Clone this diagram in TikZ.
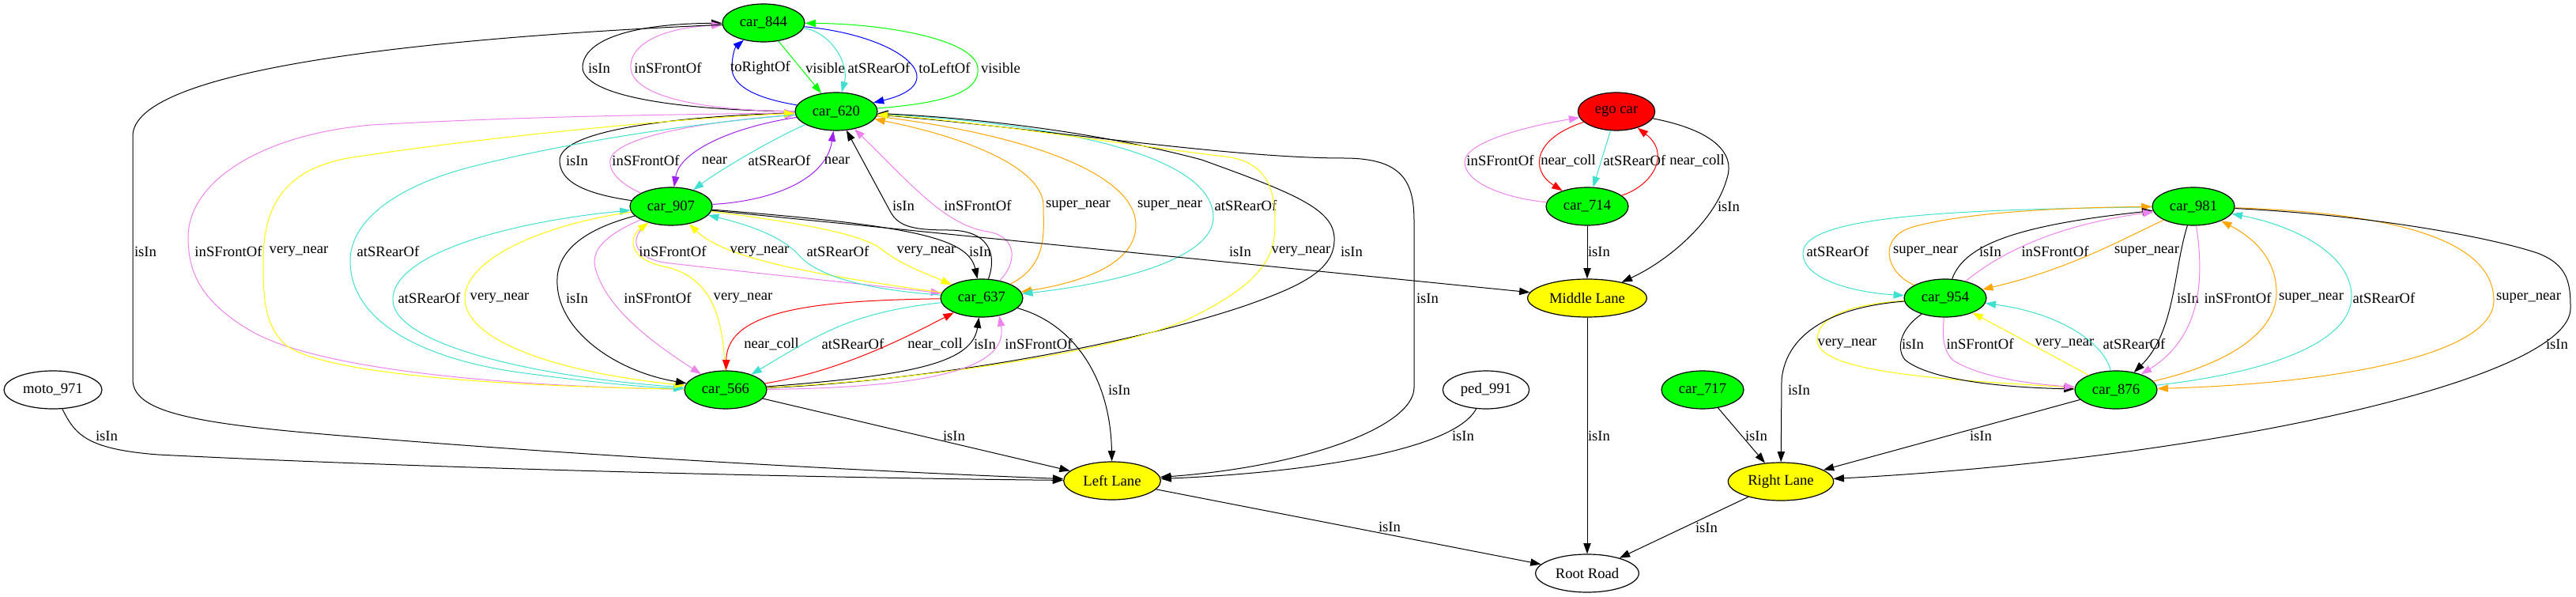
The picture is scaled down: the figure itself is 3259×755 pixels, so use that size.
\documentclass[tikz,border=0pt]{standalone}
\usepackage{fontspec}
\setmainfont{Liberation Serif}
\usepackage{tikz}
\usetikzlibrary{shapes.geometric, arrows.meta}
\definecolor{gvGreen}{HTML}{00FF00}
\definecolor{gvRed}{HTML}{FF0000}
\definecolor{gvYellow}{HTML}{FFFF00}
\definecolor{gvTurq}{HTML}{40E0D0}
\definecolor{gvViolet}{HTML}{EE82EE}
\definecolor{gvPurple}{HTML}{A020F0}
\definecolor{gvOrange}{HTML}{FFA500}
\definecolor{gvBlue}{HTML}{0000FF}
\newcommand{\gvfont}{\fontsize{14}{16}\selectfont}

\begin{document}
\begin{tikzpicture}[
    x=0.75pt, y=-0.75pt,
    obj/.style={ellipse, draw=black, line width=0.9pt, minimum height=36pt, inner sep=1pt, font=\gvfont},
    car/.style={obj, fill=gvGreen, minimum width=78pt},
    lane/.style={obj, fill=gvYellow},
    rel/.style={line width=0.75pt, -{Triangle[length=10pt,width=7pt]}},
    isin/.style={rel, color=black},
    front/.style={rel, color=gvViolet},
    rear/.style={rel, color=gvTurq},
    vnear/.style={rel, color=gvYellow},
    snear/.style={rel, color=gvOrange},
    ncoll/.style={rel, color=gvRed},
    nearby/.style={rel, color=gvPurple},
    vis/.style={rel, color=gvGreen},
    side/.style={rel, color=gvBlue},
    lbl/.style={font=\gvfont, text=black, inner sep=0pt}
]
    \useasboundingbox (0,0) rectangle (3259,755);

    \node[car] (car844) at (966,29) {car\_844};
    \node[car] (car620) at (1058,141) {car\_620};
    \node[obj, fill=gvRed, minimum width=73pt] (egocar) at (2045,141) {ego car};
    \node[car] (car907) at (849,261) {car\_907};
    \node[car] (car714) at (2008,261) {car\_714};
    \node[car] (car981) at (2775,261) {car\_981};
    \node[car] (car637) at (1242,377) {car\_637};
    \node[lane, minimum width=113pt] (midlane) at (2008,377) {Middle Lane};
    \node[car] (car954) at (2461,377) {car\_954};
    \node[car] (car566) at (918,493) {car\_566};
    \node[obj, minimum width=93pt] (moto971) at (67,493) {moto\_971};
    \node[obj, minimum width=82pt] (ped991) at (1880,493) {ped\_991};
    \node[car] (car717) at (2154,493) {car\_717};
    \node[car] (car876) at (2677,493) {car\_876};
    \node[lane, minimum width=92pt] (leftlane) at (1407,608) {Left Lane};
    \node[lane, minimum width=100pt] (rightlane) at (2253,609) {Right Lane};
    \node[obj, minimum width=98pt] (rootroad) at (2008,725) {Root Road};

    \draw[isin] (car620) .. controls (880,140) and (740,125) .. (737,86) .. controls (737,50) and (800,30) .. (car844) node[lbl] at (758,86) {isIn};
    \draw[front] (car620) .. controls (880,140) and (800,120) .. (798,86) .. controls (796,55) and (840,35) .. (car844) node[lbl] at (845,86) {inSFrontOf};
    \draw[side] (car620) .. controls (960,125) and (926,110) .. (926,86) .. controls (926,70) and (930,60) .. (car844) node[lbl] at (962,86) {toRightOf};
    \draw[vis] (car844) -- (car620) node[lbl] at (1044,86) {visible};
    \draw[rear] (car844) .. controls (1050,40) and (1075,80) .. (car620) node[lbl] at (1112,86) {atSRearOf};
    \draw[side] (car844) .. controls (1140,45) and (1210,105) .. (car620) node[lbl] at (1195,86) {toLeftOf};
    \draw[vis] (car620) .. controls (1200,130) and (1240,115) .. (1237,86) .. controls (1234,50) and (1120,30) .. (car844) node[lbl] at (1266,86) {visible};

    \draw[isin] (car907) .. controls (740,245) and (708,230) .. (708,203) .. controls (708,165) and (850,148) .. (car620) node[lbl] at (730,203) {isIn};
    \draw[front] (car907) .. controls (790,235) and (770,220) .. (772,203) .. controls (775,175) and (880,155) .. (car620) node[lbl] at (817,203) {inSFrontOf};
    \draw[nearby] (car620) .. controls (930,160) and (860,190) .. (car907) node[lbl] at (904,203) {near};
    \draw[rear] (car620) .. controls (985,172) and (915,212) .. (car907) node[lbl] at (986,203) {atSRearOf};
    \draw[nearby] (car907) .. controls (970,255) and (1045,230) .. (car620) node[lbl] at (1059,203) {near};

    \draw[isin] (car637) .. controls (1262,320) and (1250,291) .. (1200,291) .. controls (1150,291) and (1135,285) .. (1125,265) -- (car620) node[lbl] at (1143,260) {isIn};
    \draw[front] (car637) .. controls (1285,335) and (1290,300) .. (1250,293) .. controls (1195,285) and (1150,230) .. (car620) node[lbl] at (1237,260) {inSFrontOf};
    \draw[snear] (car637) .. controls (1327,335) and (1320,290) .. (1320,260) .. controls (1320,215) and (1230,175) .. (car620) node[lbl] at (1364,260) {super\_near};
    \draw[snear] (car620) .. controls (1300,170) and (1437,220) .. (1437,285) .. controls (1437,340) and (1350,360) .. (car637) node[lbl] at (1480,260) {super\_near};
    \draw[rear] (car620) .. controls (1400,160) and (1535,210) .. (1535,275) .. controls (1535,330) and (1400,360) .. (car637) node[lbl] at (1576,260) {atSRearOf};

    \draw[front] (car566) .. controls (700,490) and (420,475) .. (320,420) .. controls (250,380) and (238,340) .. (238,300) .. controls (238,230) and (330,170) .. (470,158) .. controls (700,145) and (900,145) .. (car620) node[lbl] at (289,318) {inSFrontOf};
    \draw[vnear] (car566) .. controls (600,488) and (400,470) .. (360,435) .. controls (335,410) and (333,380) .. (333,330) .. controls (333,260) and (360,215) .. (440,200) .. controls (600,175) and (850,150) .. (car620) node[lbl] at (378,318) {very\_near};
    \draw[rear] (car620) .. controls (850,158) and (700,185) .. (600,210) .. controls (500,235) and (443,280) .. (443,330) .. controls (443,400) and (520,450) .. (650,470) .. controls (750,484) and (820,490) .. (car566) node[lbl] at (491,318) {atSRearOf};
    \draw[isin] (car844) .. controls (600,45) and (175,80) .. (168,170) -- (168,480) .. controls (168,520) and (240,535) .. (420,550) .. controls (800,582) and (1200,600) .. (leftlane) node[lbl] at (184,318) {isIn};

    \draw[isin] (car620) .. controls (1300,160) and (1550,200) .. (1700,200) .. controls (1775,200) and (1789,230) .. (1789,280) -- (1789,490) .. controls (1789,540) and (1650,590) .. (leftlane) node[lbl] at (1806,377) {isIn};
    \draw[isin] (car566) .. controls (1200,480) and (1450,430) .. (1580,385) .. controls (1650,360) and (1690,340) .. (1688,300) .. controls (1686,265) and (1640,245) .. (1520,202) .. controls (1400,170) and (1250,150) .. (car620) node[lbl] at (1710,318) {isIn};
    \draw[vnear] (car566) .. controls (1200,478) and (1420,440) .. (1500,405) .. controls (1570,372) and (1608,340) .. (1612,300) .. controls (1616,250) and (1610,205) .. (1550,198) .. controls (1400,180) and (1250,155) .. (car620) node[lbl] at (1646,318) {very\_near};

    \draw[front] (car907) .. controls (795,300) and (800,325) .. (840,332) .. controls (950,345) and (1100,360) .. (car637) node[lbl] at (851,318) {inSFrontOf};
    \draw[vnear] (car637) .. controls (1050,350) and (920,330) .. (car907) node[lbl] at (961,318) {very\_near};
    \draw[rear] (car637) .. controls (1080,365) and (1030,345) .. (1010,322) .. controls (990,300) and (950,285) .. (car907) node[lbl] at (1060,318) {atSRearOf};
    \draw[vnear] (car907) .. controls (1000,280) and (1090,295) .. (1115,315) .. controls (1140,335) and (1170,345) .. (car637) node[lbl] at (1172,318) {very\_near};
    \draw[isin] (car907) .. controls (1150,285) and (1225,300) .. (car637) node[lbl] at (1240,318) {isIn};
    \draw[isin] (car907) -- (midlane) node[lbl] at (1569,318) {isIn};

    \draw[rear] (car566) .. controls (700,480) and (500,440) .. (497,380) .. controls (495,320) and (650,280) .. (car907) node[lbl] at (543,377) {atSRearOf};
    \draw[vnear] (car907) .. controls (680,285) and (588,330) .. (588,377) .. controls (588,430) and (700,470) .. (car566) node[lbl] at (632,377) {very\_near};
    \draw[isin] (car907) .. controls (720,295) and (703,330) .. (705,360) .. controls (708,420) and (780,470) .. (car566) node[lbl] at (730,377) {isIn};
    \draw[front] (car907) .. controls (760,300) and (745,320) .. (755,345) .. controls (770,390) and (820,430) .. (car566) node[lbl] at (832,377) {inSFrontOf};
    \draw[vnear] (car566) .. controls (915,400) and (900,350) .. (840,337) .. controls (795,328) and (795,300) .. (car907) node[lbl] at (940,377) {very\_near};

    \draw[ncoll] (car637) .. controls (1040,380) and (920,390) .. (car566) node[lbl] at (976,435) {near\_coll};
    \draw[rear] (car637) .. controls (1080,395) and (1040,420) .. (car566) node[lbl] at (1079,435) {atSRearOf};
    \draw[ncoll] (car566) .. controls (1060,470) and (1140,430) .. (car637) node[lbl] at (1183,435) {near\_coll};
    \draw[isin] (car566) .. controls (1150,475) and (1230,460) .. (car637) node[lbl] at (1246,435) {isIn};
    \draw[front] (car566) .. controls (1200,490) and (1275,460) .. (car637.-45) node[lbl] at (1314,435) {inSFrontOf};

    \draw[isin] (car637) .. controls (1360,410) and (1405,480) .. (leftlane) node[lbl] at (1416,493) {isIn};
    \draw[isin] (car566) -- (leftlane) node[lbl] at (1207,551) {isIn};
    \draw[isin] (moto971) .. controls (95,550) and (110,568) .. (200,575) .. controls (600,595) and (1100,605) .. (leftlane) node[lbl] at (135,551) {isIn};
    \draw[isin] (ped991) .. controls (1840,570) and (1650,598) .. (leftlane) node[lbl] at (1851,551) {isIn};
    \draw[isin] (leftlane) -- (rootroad) node[lbl] at (1758,666) {isIn};

    \draw[front] (car714) .. controls (1900,250) and (1853,230) .. (1853,205) .. controls (1853,180) and (1930,160) .. (egocar) node[lbl] at (1898,203) {inSFrontOf};
    \draw[ncoll] (egocar) .. controls (1940,175) and (1935,215) .. (car714) node[lbl] at (1984,203) {near\_coll};
    \draw[rear] (egocar) -- (car714) node[lbl] at (2068,203) {atSRearOf};
    \draw[ncoll] (car714) .. controls (2090,235) and (2115,195) .. (egocar) node[lbl] at (2147,203) {near\_coll};
    \draw[isin] (egocar) .. controls (2170,165) and (2195,195) .. (2185,225) .. controls (2170,280) and (2110,330) .. (midlane) node[lbl] at (2187,261) {isIn};
    \draw[isin] (car714) -- (midlane) node[lbl] at (2023,318) {isIn};
    \draw[isin] (midlane) -- (rootroad) node[lbl] at (2023,551) {isIn};

    \draw[rear] (car981) .. controls (2500,265) and (2281,270) .. (2281,320) .. controls (2281,355) and (2350,370) .. (car954) node[lbl] at (2325,318) {atSRearOf};
    \draw[snear] (car954) .. controls (2385,345) and (2375,300) .. (2420,287) .. controls (2500,265) and (2650,262) .. (car981) node[lbl] at (2436,318) {super\_near};
    \draw[isin] (car954) .. controls (2485,310) and (2550,285) .. (car981) node[lbl] at (2518,318) {isIn};
    \draw[front] (car954) .. controls (2530,320) and (2600,285) .. (car981) node[lbl] at (2600,318) {inSFrontOf};
    \draw[snear] (car981) .. controls (2690,300) and (2620,340) .. (car954) node[lbl] at (2716,318) {super\_near};

    \draw[isin] (car981) .. controls (2750,340) and (2752,420) .. (car876) node[lbl] at (2768,377) {isIn};
    \draw[front] (car981) .. controls (2785,330) and (2795,420) .. (car876) node[lbl] at (2831,377) {inSFrontOf};
    \draw[snear] (car876) .. controls (2820,460) and (2880,420) .. (2880,370) .. controls (2880,320) and (2840,295) .. (car981) node[lbl] at (2924,377) {super\_near};
    \draw[rear] (car876) .. controls (2880,470) and (2975,430) .. (2975,375) .. controls (2975,320) and (2900,285) .. (car981) node[lbl] at (3016,377) {atSRearOf};
    \draw[snear] (car981) .. controls (3050,270) and (3155,310) .. (3155,380) .. controls (3155,450) and (2950,485) .. (car876) node[lbl] at (3199,377) {super\_near};
    \draw[isin] (car981) .. controls (3000,272) and (3150,300) .. (3210,320) .. controls (3250,335) and (3252,360) .. (3252,390) .. controls (3252,480) and (2800,580) .. (rightlane) node[lbl] at (3235,435) {isIn};

    \draw[vnear] (car954) .. controls (2340,385) and (2299,400) .. (2299,430) .. controls (2299,470) and (2450,480) .. (car876) node[lbl] at (2337,435) {very\_near};
    \draw[isin] (car954) .. controls (2405,415) and (2398,440) .. (2410,455) .. controls (2440,480) and (2530,490) .. (car876) node[lbl] at (2420,435) {isIn};
    \draw[front] (car954) .. controls (2458,420) and (2456,440) .. (2470,455) .. controls (2500,475) and (2560,485) .. (car876) node[lbl] at (2505,435) {inSFrontOf};
    \draw[vnear] (car876) -- (car954) node[lbl] at (2612,435) {very\_near};
    \draw[rear] (car876) .. controls (2660,430) and (2600,395) .. (car954) node[lbl] at (2700,435) {atSRearOf};

    \draw[isin] (car954) .. controls (2320,388) and (2260,420) .. (2254,480) -- (rightlane) node[lbl] at (2276,493) {isIn};
    \draw[isin] (car876) -- (rightlane) node[lbl] at (2506,551) {isIn};
    \draw[isin] (car717) -- (rightlane) node[lbl] at (2222,551) {isIn};
    \draw[isin] (rightlane) -- (rootroad) node[lbl] at (2159,667) {isIn};
\end{tikzpicture}
\end{document}
